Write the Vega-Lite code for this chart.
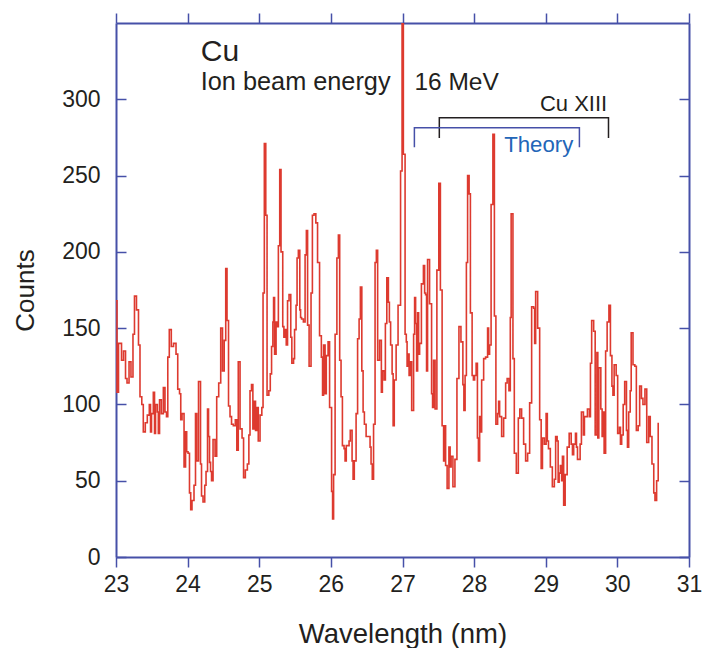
{
  "$schema": "https://vega.github.io/schema/vega-lite/v6.json",
  "width": 573,
  "height": 534,
  "autosize": {"type": "none"},
  "padding": {"left": 116, "top": 23, "right": 14, "bottom": 91},
  "background": "white",
  "config": {"view": {"stroke": null}, "font": "Liberation Sans"},
  "datasets": {
    "spec": [
      {"w":23.000,"c":168},{"w":23.014,"c":108},{"w":23.035,"c":140},{"w":23.077,"c":129},{"w":23.105,"c":135},
      {"w":23.133,"c":117},{"w":23.154,"c":114},{"w":23.182,"c":128},{"w":23.209,"c":118},{"w":23.237,"c":146},
      {"w":23.258,"c":171},{"w":23.286,"c":162},{"w":23.314,"c":139},{"w":23.335,"c":105},{"w":23.360,"c":100},
      {"w":23.381,"c":82},{"w":23.409,"c":88},{"w":23.437,"c":93},{"w":23.465,"c":100},{"w":23.482,"c":82},
      {"w":23.496,"c":94},{"w":23.521,"c":108},{"w":23.538,"c":81},{"w":23.552,"c":100},{"w":23.577,"c":95},
      {"w":23.591,"c":81},{"w":23.608,"c":103},{"w":23.633,"c":94},{"w":23.661,"c":111},{"w":23.684,"c":95},
      {"w":23.705,"c":92},{"w":23.723,"c":131},{"w":23.744,"c":149},{"w":23.772,"c":138},{"w":23.803,"c":140},
      {"w":23.838,"c":133},{"w":23.862,"c":110},{"w":23.887,"c":107},{"w":23.904,"c":90},{"w":23.922,"c":94},
      {"w":23.950,"c":59},{"w":23.971,"c":82},{"w":23.987,"c":69},{"w":24.006,"c":68},{"w":24.026,"c":42},
      {"w":24.043,"c":31},{"w":24.061,"c":37},{"w":24.089,"c":47},{"w":24.110,"c":94},{"w":24.127,"c":63},
      {"w":24.152,"c":115},{"w":24.180,"c":61},{"w":24.194,"c":40},{"w":24.215,"c":36},{"w":24.239,"c":47},
      {"w":24.257,"c":56},{"w":24.278,"c":97},{"w":24.292,"c":79},{"w":24.306,"c":62},{"w":24.320,"c":56},
      {"w":24.334,"c":50},{"w":24.355,"c":77},{"w":24.383,"c":66},{"w":24.406,"c":105},{"w":24.434,"c":114},
      {"w":24.462,"c":150},{"w":24.487,"c":122},{"w":24.511,"c":142},{"w":24.532,"c":189},{"w":24.550,"c":155},
      {"w":24.571,"c":99},{"w":24.592,"c":92},{"w":24.613,"c":87},{"w":24.638,"c":86},{"w":24.666,"c":90},
      {"w":24.687,"c":70},{"w":24.707,"c":128},{"w":24.732,"c":84},{"w":24.760,"c":78},{"w":24.781,"c":52},
      {"w":24.806,"c":57},{"w":24.834,"c":61},{"w":24.855,"c":80},{"w":24.871,"c":109},{"w":24.892,"c":113},
      {"w":24.911,"c":84},{"w":24.930,"c":102},{"w":24.948,"c":83},{"w":24.966,"c":98},{"w":24.986,"c":76},
      {"w":25.011,"c":93},{"w":25.036,"c":98},{"w":25.053,"c":173},{"w":25.071,"c":271},{"w":25.091,"c":224},
      {"w":25.109,"c":106},{"w":25.134,"c":109},{"w":25.154,"c":120},{"w":25.172,"c":138},{"w":25.190,"c":154},
      {"w":25.200,"c":170},{"w":25.214,"c":133},{"w":25.235,"c":154},{"w":25.251,"c":151},{"w":25.267,"c":204},
      {"w":25.286,"c":254},{"w":25.304,"c":200},{"w":25.328,"c":151},{"w":25.344,"c":144},{"w":25.357,"c":149},
      {"w":25.377,"c":139},{"w":25.395,"c":168},{"w":25.416,"c":172},{"w":25.440,"c":144},{"w":25.455,"c":127},
      {"w":25.479,"c":130},{"w":25.493,"c":149},{"w":25.514,"c":165},{"w":25.528,"c":196},{"w":25.546,"c":201},
      {"w":25.566,"c":162},{"w":25.577,"c":157},{"w":25.591,"c":156},{"w":25.616,"c":154},{"w":25.640,"c":198},
      {"w":25.658,"c":214},{"w":25.675,"c":152},{"w":25.696,"c":125},{"w":25.723,"c":173},{"w":25.742,"c":224},
      {"w":25.765,"c":225},{"w":25.790,"c":219},{"w":25.814,"c":193},{"w":25.842,"c":145},{"w":25.867,"c":131},
      {"w":25.884,"c":106},{"w":25.898,"c":139},{"w":25.919,"c":107},{"w":25.936,"c":132},{"w":25.961,"c":141},
      {"w":25.982,"c":98},{"w":26.010,"c":43},{"w":26.024,"c":25},{"w":26.038,"c":54},{"w":26.059,"c":146},
      {"w":26.084,"c":196},{"w":26.105,"c":211},{"w":26.123,"c":129},{"w":26.142,"c":105},{"w":26.161,"c":73},
      {"w":26.184,"c":71},{"w":26.198,"c":63},{"w":26.215,"c":73},{"w":26.254,"c":76},{"w":26.271,"c":83},
      {"w":26.296,"c":63},{"w":26.310,"c":51},{"w":26.327,"c":63},{"w":26.352,"c":94},{"w":26.373,"c":143},
      {"w":26.394,"c":156},{"w":26.412,"c":177},{"w":26.432,"c":122},{"w":26.450,"c":95},{"w":26.468,"c":87},
      {"w":26.492,"c":79},{"w":26.547,"c":72},{"w":26.561,"c":61},{"w":26.578,"c":51},{"w":26.596,"c":87},
      {"w":26.617,"c":193},{"w":26.635,"c":201},{"w":26.653,"c":129},{"w":26.680,"c":142},{"w":26.705,"c":108},
      {"w":26.719,"c":122},{"w":26.743,"c":116},{"w":26.761,"c":153},{"w":26.781,"c":183},{"w":26.803,"c":167},
      {"w":26.817,"c":154},{"w":26.834,"c":139},{"w":26.855,"c":120},{"w":26.869,"c":86},{"w":26.885,"c":116},
      {"w":26.911,"c":139},{"w":26.938,"c":165},{"w":26.973,"c":253},{"w":26.994,"c":355},{"w":27.012,"c":264},
      {"w":27.036,"c":146},{"w":27.053,"c":141},{"w":27.064,"c":125},{"w":27.081,"c":133},{"w":27.092,"c":119},
      {"w":27.109,"c":128},{"w":27.128,"c":96},{"w":27.155,"c":146},{"w":27.169,"c":170},{"w":27.183,"c":153},
      {"w":27.197,"c":122},{"w":27.211,"c":160},{"w":27.225,"c":133},{"w":27.239,"c":140},{"w":27.264,"c":179},
      {"w":27.292,"c":191},{"w":27.309,"c":173},{"w":27.322,"c":172},{"w":27.336,"c":122},{"w":27.350,"c":195},
      {"w":27.378,"c":166},{"w":27.406,"c":107},{"w":27.420,"c":98},{"w":27.434,"c":129},{"w":27.455,"c":97},
      {"w":27.480,"c":188},{"w":27.507,"c":245},{"w":27.529,"c":175},{"w":27.553,"c":86},{"w":27.574,"c":63},
      {"w":27.588,"c":86},{"w":27.602,"c":60},{"w":27.623,"c":45},{"w":27.648,"c":72},{"w":27.665,"c":59},
      {"w":27.679,"c":66},{"w":27.704,"c":46},{"w":27.732,"c":64},{"w":27.760,"c":117},{"w":27.788,"c":151},
      {"w":27.816,"c":141},{"w":27.843,"c":113},{"w":27.857,"c":96},{"w":27.874,"c":119},{"w":27.892,"c":193},
      {"w":27.909,"c":250},{"w":27.930,"c":238},{"w":27.948,"c":160},{"w":27.972,"c":119},{"w":27.990,"c":116},
      {"w":28.007,"c":119},{"w":28.028,"c":127},{"w":28.046,"c":78},{"w":28.060,"c":63},{"w":28.077,"c":92},
      {"w":28.091,"c":82},{"w":28.105,"c":116},{"w":28.133,"c":130},{"w":28.160,"c":131},{"w":28.188,"c":150},
      {"w":28.202,"c":133},{"w":28.216,"c":139},{"w":28.237,"c":231},{"w":28.262,"c":277},{"w":28.283,"c":158},
      {"w":28.304,"c":87},{"w":28.328,"c":94},{"w":28.342,"c":102},{"w":28.356,"c":92},{"w":28.384,"c":79},
      {"w":28.412,"c":91},{"w":28.440,"c":114},{"w":28.461,"c":117},{"w":28.486,"c":109},{"w":28.505,"c":157},
      {"w":28.517,"c":225},{"w":28.542,"c":130},{"w":28.561,"c":68},{"w":28.589,"c":55},{"w":28.617,"c":91},
      {"w":28.638,"c":97},{"w":28.663,"c":91},{"w":28.691,"c":74},{"w":28.719,"c":63},{"w":28.747,"c":68},
      {"w":28.775,"c":101},{"w":28.803,"c":164},{"w":28.831,"c":163},{"w":28.845,"c":140},{"w":28.859,"c":174},
      {"w":28.887,"c":150},{"w":28.915,"c":90},{"w":28.936,"c":58},{"w":28.954,"c":78},{"w":28.980,"c":74},
      {"w":29.005,"c":94},{"w":29.022,"c":76},{"w":29.038,"c":71},{"w":29.064,"c":59},{"w":29.092,"c":46},
      {"w":29.120,"c":51},{"w":29.138,"c":79},{"w":29.159,"c":76},{"w":29.173,"c":49},{"w":29.187,"c":55},
      {"w":29.204,"c":60},{"w":29.222,"c":50},{"w":29.233,"c":66},{"w":29.250,"c":34},{"w":29.271,"c":54},
      {"w":29.299,"c":72},{"w":29.327,"c":81},{"w":29.355,"c":74},{"w":29.373,"c":67},{"w":29.390,"c":74},
      {"w":29.415,"c":81},{"w":29.429,"c":72},{"w":29.443,"c":64},{"w":29.480,"c":74},{"w":29.498,"c":95},
      {"w":29.526,"c":80},{"w":29.540,"c":92},{"w":29.582,"c":97},{"w":29.610,"c":92},{"w":29.624,"c":127},
      {"w":29.641,"c":155},{"w":29.669,"c":148},{"w":29.690,"c":80},{"w":29.714,"c":134},{"w":29.727,"c":78},
      {"w":29.741,"c":124},{"w":29.769,"c":97},{"w":29.787,"c":79},{"w":29.801,"c":95},{"w":29.815,"c":68},
      {"w":29.836,"c":135},{"w":29.857,"c":154},{"w":29.882,"c":165},{"w":29.903,"c":132},{"w":29.924,"c":112},
      {"w":29.938,"c":106},{"w":29.955,"c":126},{"w":29.983,"c":119},{"w":30.004,"c":81},{"w":30.029,"c":85},
      {"w":30.043,"c":74},{"w":30.060,"c":80},{"w":30.081,"c":100},{"w":30.102,"c":115},{"w":30.127,"c":83},
      {"w":30.141,"c":72},{"w":30.158,"c":95},{"w":30.179,"c":109},{"w":30.193,"c":147},{"w":30.218,"c":126},
      {"w":30.244,"c":125},{"w":30.265,"c":83},{"w":30.290,"c":86},{"w":30.311,"c":112},{"w":30.336,"c":104},
      {"w":30.357,"c":100},{"w":30.385,"c":110},{"w":30.410,"c":75},{"w":30.437,"c":92},{"w":30.459,"c":79},
      {"w":30.483,"c":61},{"w":30.508,"c":42},{"w":30.525,"c":37},{"w":30.548,"c":50},{"w":30.570,"c":88}
    ],
    "bracketCu": [
      {"o":1,"w":27.514,"c":274.6},{"o":2,"w":27.514,"c":287.9},{"o":3,"w":29.876,"c":287.9},{"o":4,"w":29.876,"c":274.6}
    ],
    "bracketTheory": [
      {"o":1,"w":27.166,"c":268.5},{"o":2,"w":27.166,"c":281.4},{"o":3,"w":29.470,"c":281.4},{"o":4,"w":29.470,"c":268.5}
    ]
  },
  "layer": [
    {
      "data": {"name": "spec"},
      "mark": {"type": "line", "interpolate": "step-after", "color": "#dd3a2f", "strokeWidth": 1.6, "clip": true},
      "encoding": {
        "x": {
          "field": "w", "type": "quantitative",
          "scale": {"domain": [23, 31], "nice": false, "zero": false},
          "axis": {
            "orient": "bottom", "values": [23,24,25,26,27,28,29,30,31], "format": "d", "grid": false,
            "domainColor": "#4650a8", "domainWidth": 2, "tickColor": "#4650a8", "tickWidth": 1.5, "tickSize": 10,
            "labelFontSize": 23, "labelColor": "#231f20", "labelPadding": 6, "labelFlush": false,
            "title": "Wavelength (nm)", "titleFontSize": 27.5, "titleFontWeight": "normal", "titleColor": "#231f20",
            "titleBaseline": "alphabetic", "titleY": 85
          }
        },
        "y": {
          "field": "c", "type": "quantitative",
          "scale": {"domain": [0, 350], "nice": false},
          "axis": {
            "orient": "left", "values": [0,50,100,150,200,250,300], "grid": false,
            "domainColor": "#4650a8", "domainWidth": 2, "tickColor": "#4650a8", "tickWidth": 1.5, "tickSize": -10,
            "labelFontSize": 23, "labelColor": "#231f20", "labelPadding": 26, "labelFlush": false,
            "title": "Counts", "titleFontSize": 26, "titleFontWeight": "normal", "titleColor": "#231f20",
            "titleAngle": -90, "titleBaseline": "middle", "titleAlign": "center", "titleX": -91, "titleY": 267
          }
        }
      }
    },
    {
      "data": {"name": "bracketCu"},
      "mark": {"type": "line", "color": "#231f20", "strokeWidth": 1.5},
      "encoding": {
        "x": {
          "field": "w", "type": "quantitative",
          "axis": {
            "orient": "top", "values": [23,24,25,26,27,28,29,30,31], "labels": false, "title": null, "grid": false,
            "domainColor": "#4650a8", "domainWidth": 2, "tickColor": "#4650a8", "tickWidth": 1.5, "tickSize": 10
          }
        },
        "y": {
          "field": "c", "type": "quantitative",
          "axis": {
            "orient": "right", "values": [0,50,100,150,200,250,300], "labels": false, "title": null, "grid": false,
            "domainColor": "#4650a8", "domainWidth": 2, "tickColor": "#4650a8", "tickWidth": 1.5, "tickSize": -10
          }
        },
        "order": {"field": "o", "type": "quantitative"}
      }
    },
    {
      "data": {"name": "bracketTheory"},
      "mark": {"type": "line", "color": "#4650a8", "strokeWidth": 1.5},
      "encoding": {
        "x": {"field": "w", "type": "quantitative", "axis": null},
        "y": {"field": "c", "type": "quantitative", "axis": null},
        "order": {"field": "o", "type": "quantitative"}
      }
    },
    {
      "data": {"values": [{"t": "Cu", "w": 24.183, "c": 325.3}]},
      "mark": {"type": "text", "align": "left", "baseline": "alphabetic", "fontSize": 30, "color": "#231f20"},
      "encoding": {
        "x": {"field": "w", "type": "quantitative", "axis": null},
        "y": {"field": "c", "type": "quantitative", "axis": null},
        "text": {"field": "t"}
      }
    },
    {
      "data": {"values": [{"t": "Ion beam energy", "w": 24.183, "c": 306.1}]},
      "mark": {"type": "text", "align": "left", "baseline": "alphabetic", "fontSize": 25.3, "color": "#231f20"},
      "encoding": {
        "x": {"field": "w", "type": "quantitative", "axis": null},
        "y": {"field": "c", "type": "quantitative", "axis": null},
        "text": {"field": "t"}
      }
    },
    {
      "data": {"values": [{"t": "16 MeV", "w": 27.166, "c": 306.1}]},
      "mark": {"type": "text", "align": "left", "baseline": "alphabetic", "fontSize": 24.5, "color": "#231f20"},
      "encoding": {
        "x": {"field": "w", "type": "quantitative", "axis": null},
        "y": {"field": "c", "type": "quantitative", "axis": null},
        "text": {"field": "t"}
      }
    },
    {
      "data": {"values": [{"t": "Cu XIII", "w": 29.858, "c": 292.5}]},
      "mark": {"type": "text", "align": "right", "baseline": "alphabetic", "fontSize": 22, "color": "#231f20"},
      "encoding": {
        "x": {"field": "w", "type": "quantitative", "axis": null},
        "y": {"field": "c", "type": "quantitative", "axis": null},
        "text": {"field": "t"}
      }
    },
    {
      "data": {"values": [{"t": "Theory", "w": 28.42, "c": 265.6}]},
      "mark": {"type": "text", "align": "left", "baseline": "alphabetic", "fontSize": 22.2, "color": "#2366b8"},
      "encoding": {
        "x": {"field": "w", "type": "quantitative", "axis": null},
        "y": {"field": "c", "type": "quantitative", "axis": null},
        "text": {"field": "t"}
      }
    }
  ],
  "resolve": {"axis": {"x": "independent", "y": "independent"}}
}
